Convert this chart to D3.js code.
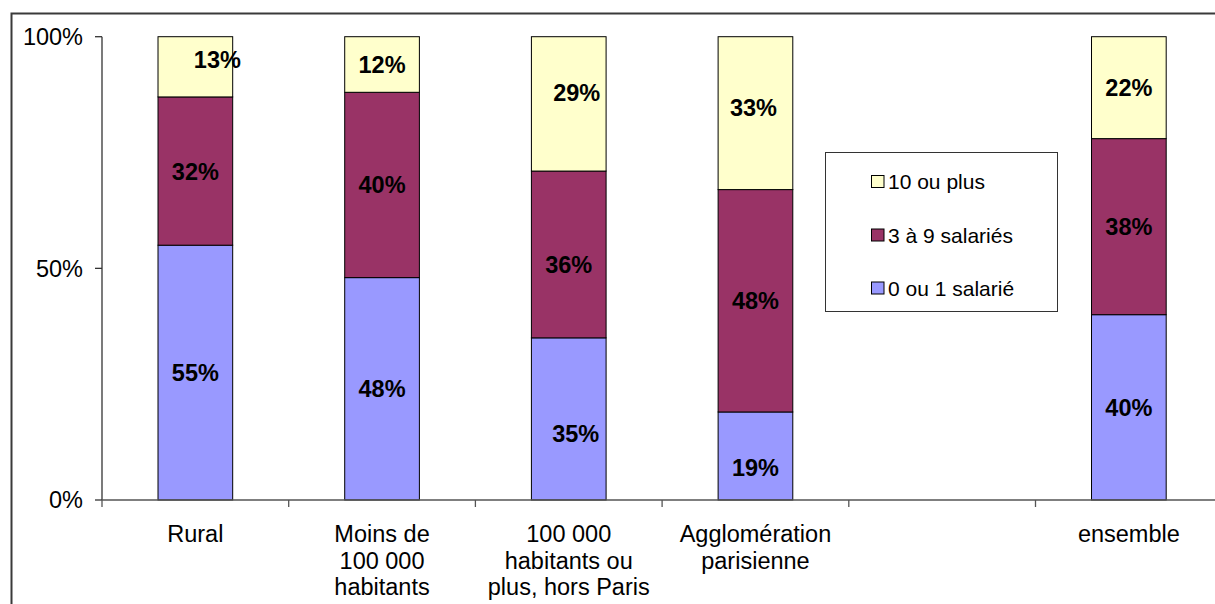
<!DOCTYPE html>
<html>
<head>
<meta charset="utf-8">
<script src="https://cdn.jsdelivr.net/npm/d3@7"></script>
<style>
  html, body { margin: 0; padding: 0; background: #fff; }
  svg { display: block; font-family: "Liberation Sans", Arial, sans-serif; }
</style>
</head>
<body>
<svg id="chart" width="1215" height="604"></svg>
<script>
// Categories (the fifth slot is an intentionally empty gap before "ensemble")
const categories = ["Rural", "Moins de 100 000 habitants", "100 000 habitants ou plus, hors Paris", "Agglomération parisienne", "", "ensemble"];
const categoryLines = [["Rural"], ["Moins de", "100 000", "habitants"], ["100 000", "habitants ou", "plus, hors Paris"], ["Agglomération", "parisienne"], [], ["ensemble"]];

// Shares (%) by company size
const seriesNames = ["0 ou 1 salarié", "3 à 9 salariés", "10 ou plus"];
const small  = [55, 48, 35, 19, null, 40];
const medium = [32, 40, 36, 48, null, 38];
const large  = [13, 12, 29, 33, null, 22];
const seriesColors = ["#9999FF", "#993366", "#FFFFCC"];

const yTicks = [0, 50, 100];
const yTickLabels = ["0%", "50%", "100%"];

// Hand-placed label nudges (dx, dy) per series, per category
const labelNudge = [
  [[0,0],[0,0],[7,15],[0,12],[0,0],[0,0]],
  [[0,0],[0,0],[0,10],[0,0],[0,0],[0,0]],
  [[22,-7],[0,0],[8,-11],[-2,-6],[0,0],[0,0]]
];

const svg = d3.select("#chart");

// Outer chart-area frame (continues past the right and bottom edges)
svg.append("rect")
  .attr("x", 11.5).attr("y", 13.5)
  .attr("width", 1260).attr("height", 650)
  .attr("fill", "none").attr("stroke", "#3a3a3a").attr("stroke-width", 2);

const plotLeft = 102, plotTop = 36.7, plotBottom = 500, step = 186.7;
const x = d3.scaleBand().domain(categories.map((c, i) => i)).range([plotLeft, plotLeft + step * categories.length]).padding(0);
const y = d3.scaleLinear().domain([0, 100]).range([plotBottom, plotTop]);

const barW = x.bandwidth() * 0.4;

// Stack the series
const rows = categories.map((c, i) => ({ i, s0: small[i], s1: medium[i], s2: large[i] }));
const stack = d3.stack().keys(["s0", "s1", "s2"]).value((d, k) => d[k] == null ? 0 : d[k]);
const stacked = stack(rows);

const g = svg.append("g");
stacked.forEach((layer, si) => {
  g.selectAll(null)
    .data(layer.filter(d => d.data["s" + si] != null))
    .enter().append("rect")
    .attr("x", d => x(d.data.i) + (x.bandwidth() - barW) / 2)
    .attr("y", d => y(d[1]))
    .attr("width", barW)
    .attr("height", d => y(d[0]) - y(d[1]))
    .attr("fill", seriesColors[si])
    .attr("stroke", "#000").attr("stroke-width", 1);
});

// Value labels
stacked.forEach((layer, si) => {
  g.selectAll(null)
    .data(layer.filter(d => d.data["s" + si] != null))
    .enter().append("text")
    .attr("x", d => x(d.data.i) + x.bandwidth() / 2 + labelNudge[si][d.data.i][0])
    .attr("y", d => (y(d[0]) + y(d[1])) / 2 + labelNudge[si][d.data.i][1])
    .attr("dy", "0.36em")
    .attr("text-anchor", "middle")
    .attr("font-size", 23.5).attr("font-weight", "bold").attr("fill", "#000")
    .text(d => d.data["s" + si] + "%");
});

// Y axis
const yAxis = svg.append("g");
yAxis.append("line").attr("x1", plotLeft).attr("x2", plotLeft).attr("y1", plotTop).attr("y2", plotBottom)
  .attr("stroke", "#333").attr("stroke-width", 1.3);
yTicks.forEach((t, k) => {
  yAxis.append("line").attr("x1", plotLeft - 7).attr("x2", plotLeft).attr("y1", y(t)).attr("y2", y(t))
    .attr("stroke", "#333").attr("stroke-width", 1.3);
  yAxis.append("text").attr("x", 83).attr("y", y(t)).attr("dy", "0.36em")
    .attr("text-anchor", "end").attr("font-size", 23.5).attr("fill", "#000").text(yTickLabels[k]);
});

// X axis
const xAxis = svg.append("g");
xAxis.append("line").attr("x1", plotLeft).attr("x2", plotLeft + step * categories.length).attr("y1", plotBottom).attr("y2", plotBottom)
  .attr("stroke", "#555").attr("stroke-width", 1.3);
categories.forEach((c, i) => {
  const xb = x(i);
  xAxis.append("line").attr("x1", xb).attr("x2", xb).attr("y1", plotBottom).attr("y2", plotBottom + 7)
    .attr("stroke", "#555").attr("stroke-width", 1.3);
  const t = xAxis.append("text").attr("text-anchor", "middle").attr("font-size", 23.5).attr("fill", "#000");
  categoryLines[i].forEach((line, li) => {
    t.append("tspan").attr("x", xb + x.bandwidth() / 2).attr("y", 542 + li * 26.7).text(line);
  });
});

// Legend
const legend = svg.append("g");
legend.append("rect").attr("x", 825.5).attr("y", 152.5).attr("width", 232).attr("height", 159)
  .attr("fill", "#fff").attr("stroke", "#333").attr("stroke-width", 1);
const legendOrder = [2, 1, 0];
const legendY = [181.5, 235, 288];
legendOrder.forEach((si, k) => {
  legend.append("rect").attr("x", 871.5).attr("y", legendY[k] - 6).attr("width", 12.5).attr("height", 12)
    .attr("fill", seriesColors[si]).attr("stroke", "#000").attr("stroke-width", 1);
  legend.append("text").attr("x", 888).attr("y", legendY[k]).attr("dy", "0.36em")
    .attr("font-size", 21).attr("fill", "#000").text(seriesNames[si]);
});
</script>
</body>
</html>
